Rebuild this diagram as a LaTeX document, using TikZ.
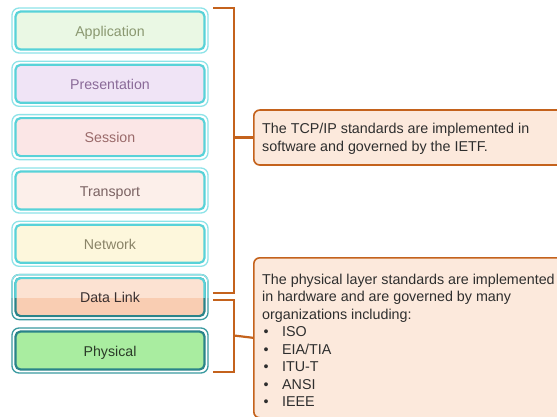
\documentclass[tikz,border=0pt]{standalone}
\usepackage{fontspec}
\setmainfont{Liberation Sans}
\begin{document}
\begin{tikzpicture}[x=1pt,y=-1pt,
  framebox/.style={minimum width=196pt,minimum height=45pt,rounded corners=7pt,
    draw=cyanlite,line width=1.3pt,fill=white,inner sep=0pt},
  layerbox/.style={minimum width=189pt,minimum height=38pt,rounded corners=5pt,
    draw=cyanmid,line width=2.2pt,inner sep=0pt,text height=12pt,text depth=1pt,
    font=\fontsize{14.2}{16}\selectfont},
  darkframe/.style={framebox,draw=tealdark},
  darklayer/.style={layerbox,draw=tealdeep},
  brace/.style={draw=bracecol,line width=2.2pt},
  notebox/.style={draw=bracecol,line width=1.6pt,fill=notefill,rounded corners=6pt,
    inner sep=0pt},
  notetext/.style={inner sep=0pt,align=left,text=notetextcol,
    font=\fontsize{14.3}{17.5}\selectfont}]
\definecolor{cyanlite}{HTML}{8EE3E8}
\definecolor{cyanmid}{HTML}{58D2D8}
\definecolor{tealdark}{HTML}{3A9AA0}
\definecolor{tealdeep}{HTML}{2A8489}
\definecolor{bracecol}{HTML}{C4621C}
\definecolor{notefill}{HTML}{FCE9DC}
\definecolor{notetextcol}{HTML}{2E2E2E}
\useasboundingbox (0,0) rectangle (557,416);
\clip (0,0) rectangle (557,416);

% OSI layer stack
\node[framebox] (appf) at (110,30.5) {};
\node[layerbox,fill={rgb,255:red,234;green,248;blue,228},text={rgb,255:red,138;green,152;blue,112}] (app) at (appf) {Application};
\node[framebox] (pref) at (110,83.8) {};
\node[layerbox,fill={rgb,255:red,240;green,228;blue,246},text={rgb,255:red,138;green,106;blue,152}] (pre) at (pref) {Presentation};
\node[framebox] (sesf) at (110,137.1) {};
\node[layerbox,fill={rgb,255:red,251;green,230;blue,230},text={rgb,255:red,154;green,106;blue,106}] (ses) at (sesf) {Session};
\node[framebox] (trnf) at (110,190.5) {};
\node[layerbox,fill={rgb,255:red,252;green,239;blue,234},text={rgb,255:red,122;green,98;blue,98}] (trn) at (trnf) {Transport};
\node[framebox] (netf) at (110,243.8) {};
\node[layerbox,fill={rgb,255:red,253;green,247;blue,220},text={rgb,255:red,138;green,132;blue,104}] (net) at (netf) {Network};

% Data Link: dark lower half, light upper half
\node[darkframe] (dlkf) at (110,297.1) {};
\node[darklayer,fill={rgb,255:red,249;green,205;blue,178}] (dlkbg) at (dlkf) {};
\begin{scope}
  \clip (0,270) rectangle (220,297.5);
  \node[framebox,fill=none] (dlkup) at (dlkf) {};
  \node[layerbox,fill={rgb,255:red,252;green,226;blue,210}] (dlkupin) at (dlkf) {};
\end{scope}
\node[inner sep=0pt,text height=12pt,text depth=1pt,font=\fontsize{14.2}{16}\selectfont,text={rgb,255:red,58;green,48;blue,48}] (dlk) at (dlkf) {Data Link};

\node[darkframe] (phyf) at (110,350.5) {};
\node[darklayer,fill={rgb,255:red,169;green,237;blue,160},text={rgb,255:red,42;green,58;blue,40}] (phy) at (phyf) {Physical};

% Notes
\node[notebox,minimum width=330pt,minimum height=55pt,anchor=west] (tcp) at (253,137.5) {};
\node[notetext,anchor=west] (tcptxt) at (262,139)
  {The TCP/IP standards are implemented in\\software and governed by the IETF.};

\node[notebox,minimum width=330pt,minimum height=160pt,anchor=north west] (phn) at (253,257) {};
\node[notetext,anchor=north west] (phntxt) at (262,273.5)
  {The physical layer standards are implemented\\
   in hardware and are governed by many\\
   organizations including:\\
   \hspace*{1.5pt}\makebox[18.5pt][l]{•}ISO\\
   \hspace*{1.5pt}\makebox[18.5pt][l]{•}EIA/TIA\\
   \hspace*{1.5pt}\makebox[18.5pt][l]{•}ITU-T\\
   \hspace*{1.5pt}\makebox[18.5pt][l]{•}ANSI\\
   \hspace*{1.5pt}\makebox[18.5pt][l]{•}IEEE};

% Brackets
\coordinate (b1a) at (213,8);
\coordinate (b1b) at (213,293);
\coordinate (b1m) at (234,137.5);
\draw[brace] (b1a) -- (234,8) -- (234,293) -- (b1b);
\draw[brace] (b1m) -- (tcp.west);

\coordinate (b2a) at (213,300);
\coordinate (b2b) at (213,372);
\coordinate (b2m) at (234,335.5);
\draw[brace] (b2a) -- (234,300) -- (234,372) -- (b2b);
\draw[brace] (b2m) -- (phn.west);
\end{tikzpicture}
\end{document}
